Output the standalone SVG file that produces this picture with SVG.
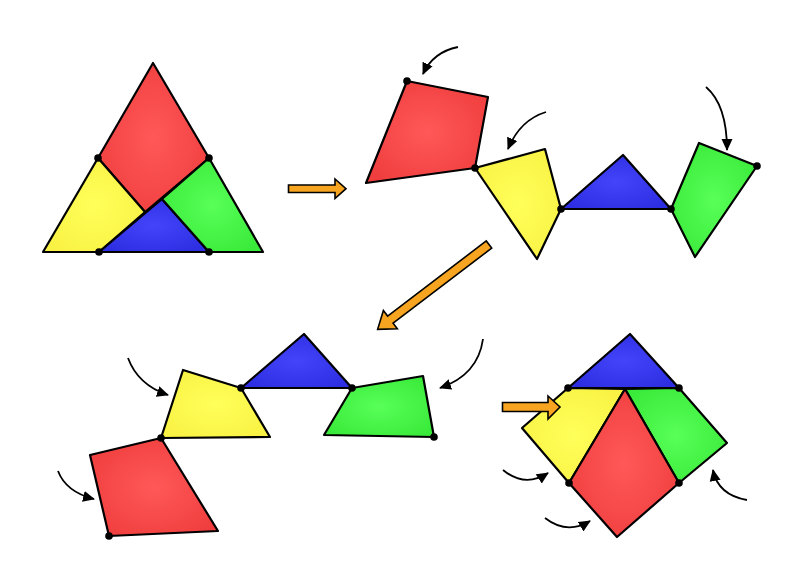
<svg xmlns="http://www.w3.org/2000/svg" width="800" height="561" viewBox="0 0 800 561">
<style>
.p{stroke:#000;stroke-width:2.2;stroke-linejoin:round}
.r{fill:url(#gr)}.y{fill:url(#gy)}.b{fill:url(#gb)}.g{fill:url(#gg)}
.d{fill:#000}
.c{fill:none;stroke:#000;stroke-width:1.8;marker-end:url(#ah)}
.o{fill:#f7a520;stroke:#000;stroke-width:1.6;stroke-linejoin:miter}
</style>
<defs>
<radialGradient id="gr" cx="0.5" cy="0.5" r="0.6"><stop offset="0" stop-color="#ff5858"/><stop offset="1" stop-color="#f03e3e"/></radialGradient>
<radialGradient id="gy" cx="0.5" cy="0.5" r="0.6"><stop offset="0" stop-color="#ffff5a"/><stop offset="1" stop-color="#f9f244"/></radialGradient>
<radialGradient id="gb" cx="0.5" cy="0.5" r="0.6"><stop offset="0" stop-color="#4444fa"/><stop offset="1" stop-color="#2d2de2"/></radialGradient>
<radialGradient id="gg" cx="0.5" cy="0.5" r="0.6"><stop offset="0" stop-color="#58ff58"/><stop offset="1" stop-color="#3aea3a"/></radialGradient>
<marker id="ah" viewBox="0 0 12 12" refX="11" refY="6" markerWidth="12" markerHeight="12" markerUnits="userSpaceOnUse" orient="auto"><path d="M0,0.5 L12,6 L0,11.5 Z" fill="#000"/></marker>
</defs>
<rect width="800" height="561" fill="#fff"/>

<g id="fig1">
<g id="f1-red"><polygon class="p r" points="153,63 209,158 145,212 98,158"/></g>
<g id="f1-yellow"><polygon class="p y" points="43,252 98,158 145,212 99,252"/></g>
<g id="f1-blue"><polygon class="p b" points="99,252 209,252 162,199"/></g>
<g id="f1-green"><polygon class="p g" points="209,158 263,252 209,252 162,199"/></g>
<g id="f1-dots" class="d"><circle cx="98" cy="158" r="3.8"/><circle cx="209" cy="158" r="3.8"/><circle cx="99" cy="252" r="3.8"/><circle cx="209" cy="252" r="3.8"/></g>
</g>

<g id="fig2">
<g id="f2-red"><polygon class="p r" points="407,81 488,97 475,168 366,183"/></g>
<g id="f2-yellow"><polygon class="p y" points="475,168 545,149 561,209 537,259"/></g>
<g id="f2-blue"><polygon class="p b" points="561,209 623,155 671,209"/></g>
<g id="f2-green"><polygon class="p g" points="671,209 699,143 757,166 695,257"/></g>
<g id="f2-dots" class="d"><circle cx="407" cy="81" r="3.8"/><circle cx="475" cy="168" r="3.8"/><circle cx="561" cy="209" r="3.8"/><circle cx="671" cy="209" r="3.8"/><circle cx="757" cy="166" r="3.8"/></g>
</g>

<g id="fig3">
<g id="f3-yellow"><polygon class="p y" points="183,370 241,388 270,437 161,438"/></g>
<g id="f3-blue"><polygon class="p b" points="241,388 304,334 352,388"/></g>
<g id="f3-green"><polygon class="p g" points="352,388 423,376 434,437 324,435"/></g>
<g id="f3-red"><polygon class="p r" points="161,438 90,455 109,536 218,531"/></g>
<g id="f3-dots" class="d"><circle cx="161" cy="438" r="3.8"/><circle cx="241" cy="388" r="3.8"/><circle cx="352" cy="388" r="3.8"/><circle cx="434" cy="437" r="3.8"/><circle cx="109" cy="536" r="3.8"/></g>
</g>

<g id="fig4">
<g id="f4-blue"><polygon class="p b" points="568,388 630,334 679,388"/></g>
<g id="f4-yellow"><polygon class="p y" points="568,388 625,389 569,483 522,428"/></g>
<g id="f4-green"><polygon class="p g" points="625,389 679,388 727,443 679,483"/></g>
<g id="f4-red"><polygon class="p r" points="625,389 679,483 617,537 569,483"/></g>
<g id="f4-dots" class="d"><circle cx="568" cy="388" r="3.8"/><circle cx="679" cy="388" r="3.8"/><circle cx="569" cy="483" r="3.8"/><circle cx="679" cy="483" r="3.8"/></g>
</g>

<g id="connectors">
<polygon class="o" points="288.5,185 335,185 335,179 346,188.7 335,198.5 335,192.5 288.5,192.5"/>
<polygon class="o" transform="translate(489,244.5) rotate(142.7)" points="0,-4.5 124,-4.5 124,-11.5 140,0 124,11.5 124,4.5 0,4.5"/>
<polygon class="o" points="502.5,402.5 548,402.5 548,396 560,407 548,419 548,411.5 502.5,411.5"/>
<path class="c" d="M458,47 Q433,52 423,74"/>
<path class="c" d="M546,112 Q520,120 508,149"/>
<path class="c" d="M706,87 Q727,105 727,150"/>
<path class="c" d="M128,358 Q138,385 168,395"/>
<path class="c" d="M58,471 Q66,492 94,499"/>
<path class="c" d="M483,339 Q478,375 440,388"/>
<path class="c" d="M503,470 Q525,488 548,473"/>
<path class="c" d="M545,518 Q567,535 590,521"/>
<path class="c" d="M747,500 Q718,495 713,470"/>
</g>
</svg>
